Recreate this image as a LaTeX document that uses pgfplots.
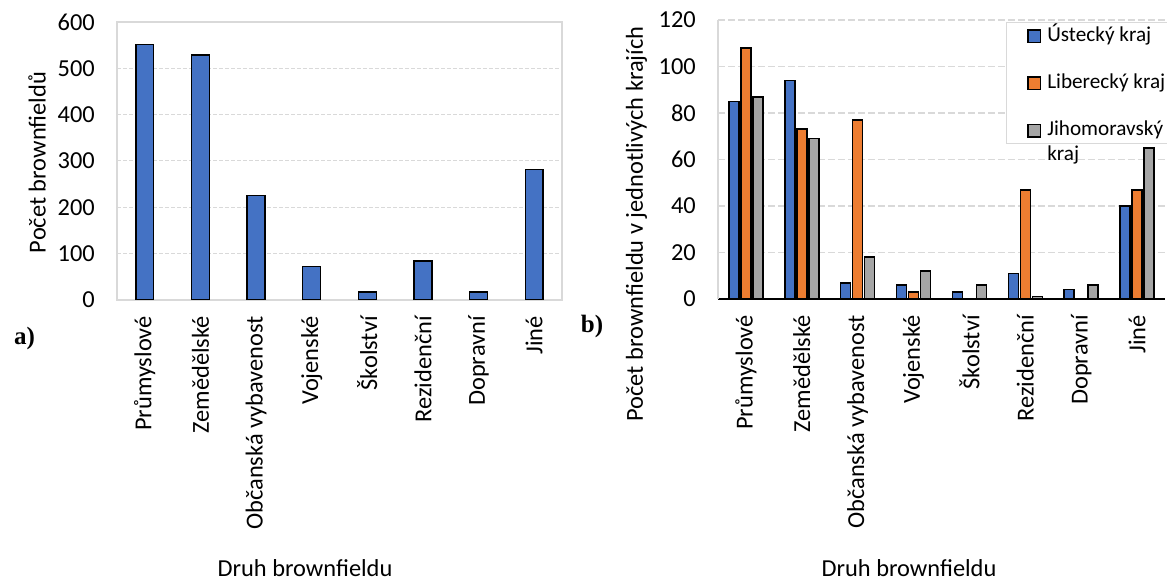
\documentclass[border=0pt]{standalone}
\usepackage{fontspec}
\setmainfont{Carlito}
\newfontfamily\timesf{Liberation Serif}
\usepackage{pgfplots}
\usepackage{pgfplotstable}
\pgfplotsset{compat=1.18}
\definecolor{cblue}{HTML}{4472C4}
\definecolor{corange}{HTML}{ED7D31}
\definecolor{cgray}{HTML}{A5A5A5}
\definecolor{lgrid}{HTML}{D9D9D9}
\newcommand\fs{\fontsize{12.2pt}{13pt}\selectfont}
\newcommand\lfs{\fontsize{10.6pt}{12.5pt}\selectfont}

\pgfplotstableread{
x a
0 552
1 529
2 225
3 72
4 17
5 84
6 17
7 282
}\tableA

\pgfplotstableread{
x us li jm
0 85 108 87
1 94 73 69
2 7 77 18
3 6 3 12
4 3 0 6
5 11 47 1
6 4 0 6
7 40 47 65
}\tableB

\pgfplotsset{sq legend/.style={legend image code/.code={\draw[##1, draw=black, line width=0.8pt] (0pt,-0.5pt) rectangle (6.3pt,5.8pt);}}}

\begin{document}
\begin{tikzpicture}[x=1pt,y=1pt]
\path[use as bounding box] (0,0) rectangle (583.5,291);
\begin{axis}[
 at={(58.5pt,141pt)}, anchor=south west, scale only axis,
 width=222.5pt, height=139pt,
 ybar, bar width=8.9pt,
 xmin=-0.5, xmax=7.5, ymin=0, ymax=600,
 xtick={0,...,7},
 xticklabels={Průmyslové,Zemědělské,Občanská vybavenost,Vojenské,Školství,Rezidenční,Dopravní,Jiné},
 ytick={0,100,...,600},
 major tick length=0pt,
 tick label style={font=\fs},
 xticklabel style={rotate=90, anchor=east},
 xticklabel shift=4.6pt, yticklabel shift=7.6pt,
 /pgf/number format/assume math mode=true,
 ymajorgrids, grid style={lgrid, dash pattern=on 2pt off 1pt, line width=0.5pt},
 axis line style={draw=lgrid, line width=0.7pt},
]
\addplot[fill=cblue, draw=black, line width=0.7pt] table[x=x,y=a]{\tableA};
\end{axis}

\begin{axis}[
 at={(359pt,141.5pt)}, anchor=south west, scale only axis,
 width=223.5pt, height=139.5pt,
 ybar=1pt, bar width=5pt,
 xmin=-0.5, xmax=7.5, ymin=0, ymax=120,
 xtick={0,...,7},
 xticklabels={Průmyslové,Zemědělské,Občanská vybavenost,Vojenské,Školství,Rezidenční,Dopravní,Jiné},
 ytick={0,20,...,120},
 major tick length=0pt,
 tick label style={font=\fs},
 xticklabel style={rotate=90, anchor=east},
 xticklabel shift=4.6pt, yticklabel shift=7.6pt,
 /pgf/number format/assume math mode=true,
 axis lines*=left,
 x axis line style={black, line width=1pt},
 y axis line style={lgrid, line width=0.7pt},
 ymajorgrids, grid style={lgrid, dash pattern=on 3.5pt off 1.5pt, line width=0.9pt},
 legend cell align=left,
 legend style={at={(0.6436,0.993)}, anchor=north west, draw=lgrid, fill=white, font=\lfs,
   row sep=10.8pt, column sep=0pt, inner xsep=10.5pt, inner ysep=0pt,
   nodes={inner xsep=3pt}, cells={anchor=base west}},
]
\addplot[fill=cblue, draw=black, line width=0.8pt, sq legend] table[x=x,y=us]{\tableB};
\addplot[fill=corange, draw=black, line width=0.8pt, sq legend] table[x=x,y=li]{\tableB};
\addplot[fill=cgray, draw=black, line width=0.8pt, sq legend] table[x=x,y=jm]{\tableB};
\legend{\raisebox{0pt}[7.5pt][0pt]{Ú}stecký kraj, Liberecký kraj, {\rlap{\raisebox{-12.5pt}{kraj}}Jihomoravský}}
\end{axis}

\node[font=\fs, rotate=90] at (18.5,209.75) {Počet brownfieldů};
\node[font=\fs, rotate=90] at (318.3,179) {Počet brownfieldu v jednotlivých krajích};
\node[font=\fs, anchor=base, inner sep=0pt] at (152.5,2.5) {Druh brownfieldu};
\node[font=\fs, anchor=base, inner sep=0pt] at (454.5,2.5) {Druh brownfieldu};
\node[font=\timesf\bfseries\fontsize{12.5pt}{14pt}\selectfont] at (12.25,122) {a)};
\node[font=\timesf\bfseries\fontsize{12.5pt}{14pt}\selectfont] at (296,128) {b)};
\end{tikzpicture}
\end{document}
